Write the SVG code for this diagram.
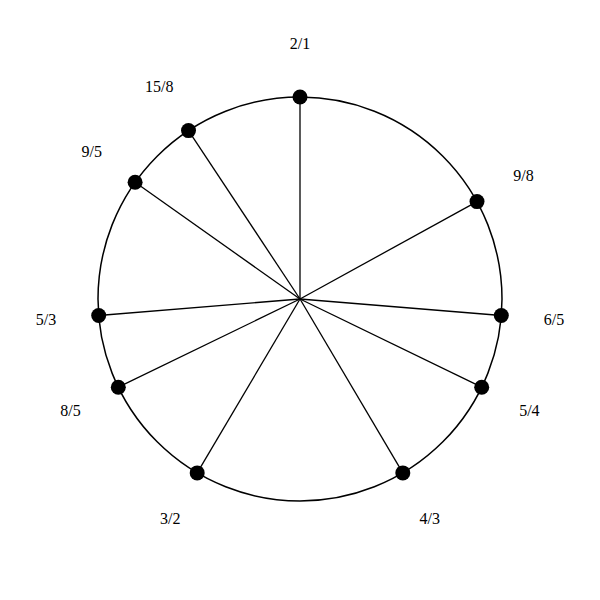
<svg xmlns="http://www.w3.org/2000/svg" width="600" height="600" viewBox="0 0 600 600">
<style>
.rim{fill:none;stroke:#000;stroke-width:1.5}
.spoke{stroke:#000;stroke-width:1.3}
.dot{fill:#000}
.lbl{font-family:"Liberation Serif","Times New Roman",serif;font-size:16px;fill:#000;text-anchor:middle}
</style>
<rect width="600" height="600" fill="#fff"/>
<circle class="rim" cx="300" cy="299" r="202"/>
<g id="connectors">
<line class="spoke" x1="300" y1="299" x2="300" y2="97"/>
<line class="spoke" x1="300" y1="299" x2="477" y2="201.6"/>
<line class="spoke" x1="300" y1="299" x2="501.3" y2="315.5"/>
<line class="spoke" x1="300" y1="299" x2="481.7" y2="387.2"/>
<line class="spoke" x1="300" y1="299" x2="402.8" y2="472.9"/>
<line class="spoke" x1="300" y1="299" x2="197.2" y2="472.9"/>
<line class="spoke" x1="300" y1="299" x2="118.3" y2="387.2"/>
<line class="spoke" x1="300" y1="299" x2="98.7" y2="315.5"/>
<line class="spoke" x1="300" y1="299" x2="135.1" y2="182.3"/>
<line class="spoke" x1="300" y1="299" x2="188.5" y2="130.6"/>
</g>
<g id="n21"><circle class="dot" cx="300" cy="97" r="7.5"/><text class="lbl" x="300" y="49">2/1</text></g>
<g id="n98"><circle class="dot" cx="477" cy="201.6" r="7.5"/><text class="lbl" x="523.5" y="181">9/8</text></g>
<g id="n65"><circle class="dot" cx="501.3" cy="315.5" r="7.5"/><text class="lbl" x="554" y="325">6/5</text></g>
<g id="n54"><circle class="dot" cx="481.7" cy="387.2" r="7.5"/><text class="lbl" x="529.4" y="416">5/4</text></g>
<g id="n43"><circle class="dot" cx="402.8" cy="472.9" r="7.5"/><text class="lbl" x="429.8" y="524">4/3</text></g>
<g id="n32"><circle class="dot" cx="197.2" cy="472.9" r="7.5"/><text class="lbl" x="170.2" y="524">3/2</text></g>
<g id="n85"><circle class="dot" cx="118.3" cy="387.2" r="7.5"/><text class="lbl" x="70.6" y="416">8/5</text></g>
<g id="n53"><circle class="dot" cx="98.7" cy="315.5" r="7.5"/><text class="lbl" x="46" y="325">5/3</text></g>
<g id="n95"><circle class="dot" cx="135.1" cy="182.3" r="7.5"/><text class="lbl" x="91.8" y="157">9/5</text></g>
<g id="n158"><circle class="dot" cx="188.5" cy="130.6" r="7.5"/><text class="lbl" x="159.3" y="91.5">15/8</text></g>
</svg>
